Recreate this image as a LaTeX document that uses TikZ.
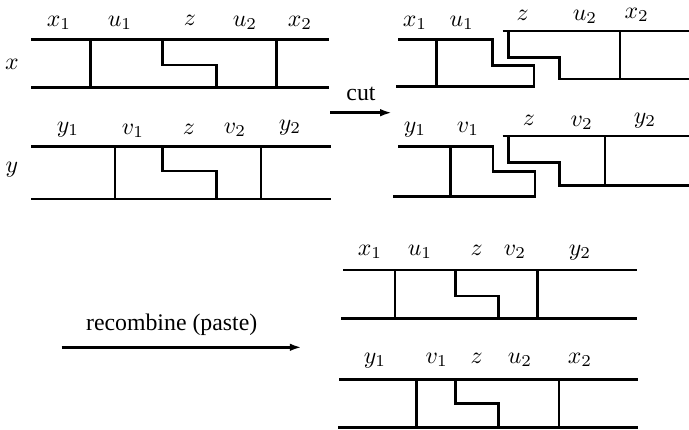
\documentclass[tikz,border=0pt]{standalone}
\usepackage[no-math]{fontspec}
\newfontfamily\tnr{Liberation Serif}
\usetikzlibrary{arrows.meta}
\begin{document}
\begin{tikzpicture}[x=0.42pt,y=-0.42pt,
  strand/.style={line width=1.1pt, line join=miter},
  lbl/.style={anchor=base, inner sep=0pt, font=\fontsize{10.4}{12}\selectfont},
  side/.style={anchor=center, inner sep=0pt, font=\fontsize{10.4}{12}\selectfont},
  word/.style={anchor=base, inner sep=0pt, font=\tnr\fontsize{10}{12}\selectfont},
  move/.style={line width=1.1pt, -{Latex[length=5pt,width=3.2pt]}}]
\useasboundingbox (0,0) rectangle (689,429);

% ---- strand x (before the cut)
\draw[strand] (31,39.5) -- (329,39.5);
\draw[strand] (31,87.5) -- (329,87.5);
\draw[strand] (90.7,39.5) -- (90.7,87.5);
\draw[strand] (162.7,39.5) -- (162.7,65) -- (216.7,65) -- (216.7,87.5);
\draw[strand] (276.7,39.5) -- (276.7,87.5);
\node[lbl] (xa) at (59,26) {$x_1$};
\node[lbl] (xb) at (120,26) {$u_1$};
\node[lbl] (xc) at (190,25) {$z$};
\node[lbl] (xd) at (245,26) {$u_2$};
\node[lbl] (xe) at (300,26) {$x_2$};
\node[side] (xn) at (12,64) {$x$};

% ---- strand y (before the cut)
\draw[strand] (31,146.7) -- (331,146.7);
\draw[strand] (31,199) -- (331,199);
\draw[strand] (115,146.7) -- (115,199);
\draw[strand] (162.7,146.7) -- (162.7,171) -- (216.7,171) -- (216.7,199);
\draw[strand] (261,146.7) -- (261,199);
\node[lbl] (ya) at (68,132) {$y_1$};
\node[lbl] (yb) at (133,134) {$v_1$};
\node[lbl] (yc) at (189,134) {$z$};
\node[lbl] (yd) at (235,133) {$v_2$};
\node[lbl] (ye) at (290,130) {$y_2$};
\node[side] (yn) at (12,170) {$y$};

% ---- cut arrow
\coordinate (cutA) at (330,112.7);
\coordinate (cutB) at (392,112.7);
\draw[move] (cutA) -- (cutB);
\node[word] (cutw) at (361,100) {cut};

% ---- strand x after the cut: left and right pieces
\draw[strand] (398.3,39.3) -- (492.7,39.3) -- (492.7,65.7) -- (534,65.7) -- (534,86.7) -- (396,86.7);
\draw[strand] (436.7,39.3) -- (436.7,86.7);
\draw[strand] (502.7,31) -- (689,31);
\draw[strand] (508.3,31) -- (508.3,57.7) -- (559.3,57.7) -- (559.3,79) -- (689,79);
\draw[strand] (620,31) -- (620,79);
\node[lbl] (pa) at (415,26) {$x_1$};
\node[lbl] (pb) at (461.7,26) {$u_1$};
\node[lbl] (pc) at (522.7,20) {$z$};
\node[lbl] (pd) at (585,20) {$u_2$};
\node[lbl] (pe) at (636.7,18) {$x_2$};

% ---- strand y after the cut: left and right pieces
\draw[strand] (398.3,146.7) -- (493,146.7) -- (493,171.7) -- (535,171.7) -- (535,196.7) -- (393.3,196.7);
\draw[strand] (450.7,146.7) -- (450.7,196.7);
\draw[strand] (502.7,136) -- (689,136);
\draw[strand] (508.3,136) -- (508.3,162.7) -- (559.3,162.7) -- (559.3,185.7) -- (689,185.7);
\draw[strand] (605,136) -- (605,185.7);
\node[lbl] (qa) at (415,132) {$y_1$};
\node[lbl] (qb) at (468,132) {$v_1$};
\node[lbl] (qc) at (529,125) {$z$};
\node[lbl] (qd) at (581.7,126) {$v_2$};
\node[lbl] (qe) at (645,123) {$y_2$};

% ---- recombine arrow
\coordinate (recA) at (61.7,347.3);
\coordinate (recB) at (301.7,347.3);
\draw[move] (recA) -- (recB);
\node[word] (recw) at (171.7,330) {recombine (paste)};

% ---- recombined strand: x1 u1 z v2 y2
\draw[strand] (343.3,270) -- (636.7,270);
\draw[strand] (341,318.3) -- (636.7,318.3);
\draw[strand] (395,270) -- (395,318.3);
\draw[strand] (455.7,270) -- (455.7,296) -- (498.3,296) -- (498.3,318.3);
\draw[strand] (537.7,270) -- (537.7,318.3);
\node[lbl] (ra) at (370,255) {$x_1$};
\node[lbl] (rb) at (420,255) {$u_1$};
\node[lbl] (rc) at (476.7,255) {$z$};
\node[lbl] (rd) at (515,255) {$v_2$};
\node[lbl] (re) at (580,255) {$y_2$};

% ---- recombined strand: y1 v1 z u2 x2
\draw[strand] (339.3,379.3) -- (638.3,379.3);
\draw[strand] (338.3,427.7) -- (638.3,427.7);
\draw[strand] (416.7,379.3) -- (416.7,427.7);
\draw[strand] (455.7,379.3) -- (455.7,403.3) -- (498.3,403.3) -- (498.3,427.7);
\draw[strand] (559,379.3) -- (559,427.7);
\node[lbl] (sa) at (375,363) {$y_1$};
\node[lbl] (sb) at (436.7,363) {$v_1$};
\node[lbl] (sc) at (476.7,363) {$z$};
\node[lbl] (sd) at (520,363) {$u_2$};
\node[lbl] (se) at (580,363) {$x_2$};
\end{tikzpicture}
\end{document}
